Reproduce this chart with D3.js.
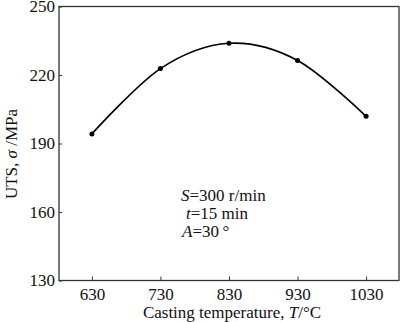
<!DOCTYPE html>
<html><head><meta charset="utf-8">
<script src="https://cdn.jsdelivr.net/npm/d3@7"></script>
<style>body{margin:0;background:#fff}svg{display:block}text{font-family:"Liberation Serif","Times New Roman",serif;fill:#111}</style>
</head><body><svg id="c" width="400" height="322"></svg>
<script>
const temps = [630, 730, 830, 930, 1030];
const uts = [194.2, 222.8, 233.9, 226.4, 201.9];
const xTicks = [630, 730, 830, 930, 1030];
const yTicks = [130, 160, 190, 220, 250];

const svg = d3.select("#c");
const L = 59, R = 399, T = 6.5, B = 280.5;
const x = d3.scaleLinear().domain([582, 1078]).range([L, R]);
const y = d3.scaleLinear().domain([130, 250]).range([B, T]);

svg.append("rect").attr("x", L).attr("y", T).attr("width", R - L).attr("height", B - T)
  .attr("fill", "none").attr("stroke", "#333").attr("stroke-width", 1.3);

const gx = svg.append("g").attr("transform", `translate(0,${B})`)
  .call(d3.axisBottom(x).tickValues(xTicks).tickSize(-4).tickPadding(7).tickFormat(d3.format("d")));
gx.select(".domain").remove();
gx.selectAll("line").attr("stroke", "#333");
gx.selectAll("text").style("font-size", "17px").attr("dy", "0.71em");

const gy = svg.append("g").attr("transform", `translate(${L},0)`)
  .call(d3.axisLeft(y).tickValues(yTicks).tickSize(-3).tickPadding(4).tickFormat(d3.format("d")));
gy.select(".domain").remove();
gy.selectAll("line").attr("stroke", "#333");
gy.selectAll("text").style("font-size", "17px");

const line = d3.line().x((d, i) => x(temps[i])).y(d => y(d)).curve(d3.curveCatmullRom.alpha(0));
svg.append("path").datum(uts).attr("d", line).attr("fill", "none").attr("stroke", "#000").attr("stroke-width", 1.7);
svg.selectAll("circle.p").data(uts).join("circle").attr("class", "p")
  .attr("cx", (d, i) => x(temps[i])).attr("cy", d => y(d)).attr("r", 2.5).attr("fill", "#000");

// axis titles
const xt = svg.append("text").attr("x", 232).attr("y", 318).attr("text-anchor", "middle").style("font-size", "17px");
xt.append("tspan").text("Casting temperature, ");
xt.append("tspan").style("font-style", "italic").text("T");
xt.append("tspan").text("/°C");

const yt = svg.append("text").attr("transform", "translate(17,154) rotate(-90)").attr("text-anchor", "middle").style("font-size", "17px");
yt.append("tspan").text("UTS, ");
yt.append("tspan").style("font-style", "italic").text("σ");
yt.append("tspan").text(" /MPa");

// annotation
const ann = [["S", "=300 r/min", 181, 201], ["t", "=15 min", 186, 219], ["A", "=30\u2009°", 182, 237]];
ann.forEach(a => {
  const t = svg.append("text").attr("x", a[2]).attr("y", a[3]).style("font-size", "17px");
  t.append("tspan").style("font-style", "italic").text(a[0]);
  t.append("tspan").text(a[1]);
});
</script></body></html>
